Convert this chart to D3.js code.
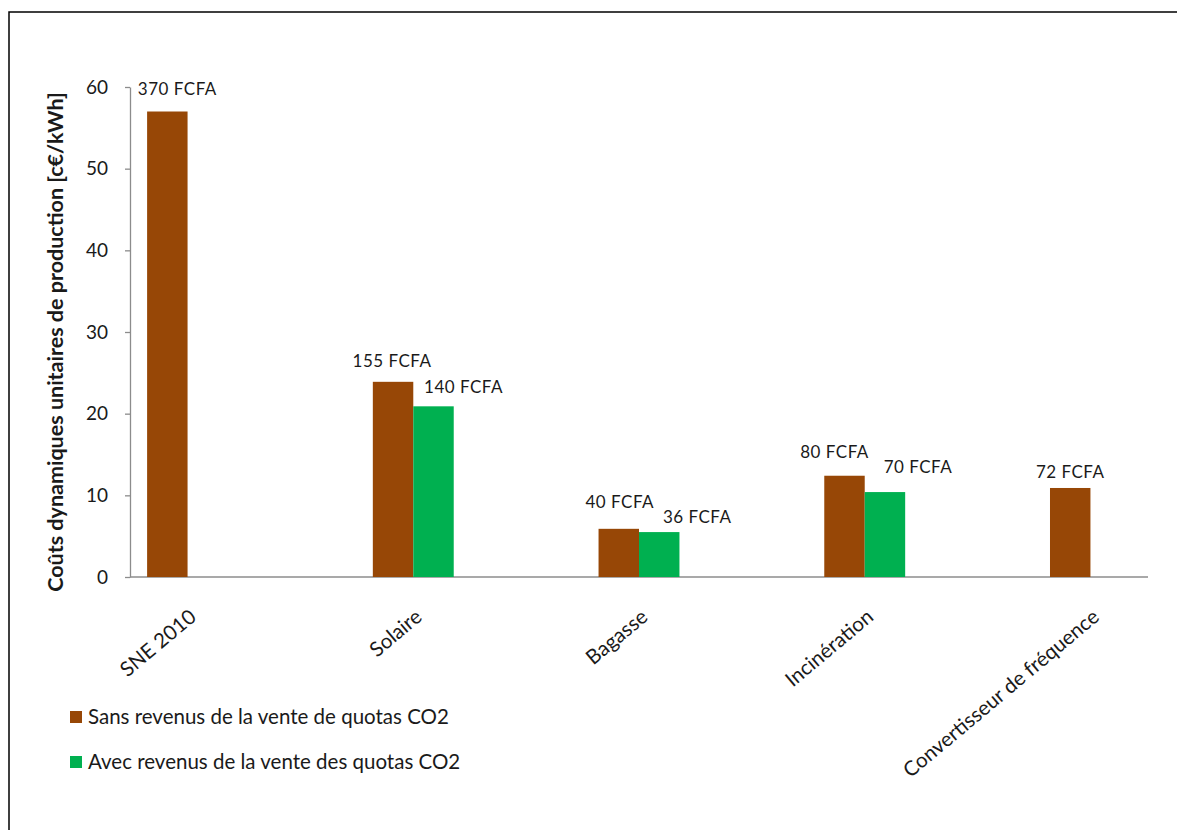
<!DOCTYPE html>
<html>
<head>
<meta charset="utf-8">
<script src="https://cdn.jsdelivr.net/npm/d3@7"></script>
<style>
  html, body { margin: 0; padding: 0; background: #fff; }
  svg { display: block; }
  text { font-family: Lato, "Open Sans", sans-serif; fill: #1a1a1a; }
</style>
</head>
<body>
<svg id="chart" width="1177" height="830"></svg>
<script>
// Production technologies
const categories = ["SNE 2010", "Solaire", "Bagasse", "Incinération", "Convertisseur de fréquence"];

// Series (c€/kWh); null where no bar is drawn
const seriesNames = ["Sans revenus de la vente de quotas CO2", "Avec revenus de la vente des quotas CO2"];
const sansRevenus = [57, 23.9, 5.9, 12.4, 10.9];
const avecRevenus = [null, 20.9, 5.5, 10.4, null];

// Data labels in FCFA
const labelsSans = ["370 FCFA", "155 FCFA", "40 FCFA", "80 FCFA", "72 FCFA"];
const labelsAvec = [null, "140 FCFA", "36 FCFA", "70 FCFA", null];

// Y axis ticks
const yTicks = [0, 10, 20, 30, 40, 50, 60];
const yTitle = "Coûts dynamiques unitaires de production [c€/kWh]";

// Hand-placed data label nudges [dx, dy] relative to bar centre / top
const nudgeSans = [[10, -17], [-1, -15], [1, -21], [-10, -18], [0, -10]];
const nudgeAvec = [null, [30, -13], [38, -9], [33, -19], null];

const colors = ["#974706", "#00B050"];

const svg = d3.select("#chart");
const plot = { left: 130, right: 1148, top: 87, bottom: 577 };

// outer frame (top and left edge)
svg.append("path")
  .attr("d", "M9,830 V12 H1177")
  .attr("fill", "none").attr("stroke", "#000").attr("stroke-width", 1.5);

const y = d3.scaleLinear().domain([0, 60]).range([plot.bottom, plot.top]);

const x = d3.scaleBand()
  .domain(categories)
  .range([plot.left, plot.right])
  .paddingInner(0)
  .paddingOuter(-0.245);

const xs = d3.scaleBand()
  .domain(seriesNames)
  .range([0, x.bandwidth()])
  .paddingInner(0)
  .paddingOuter(1.79);

// Y axis
const yAxis = svg.append("g")
  .attr("transform", `translate(${plot.left},0)`)
  .call(d3.axisLeft(y).tickValues(yTicks).tickSize(5).tickPadding(17).tickSizeOuter(0));
yAxis.select(".domain").attr("stroke", "#8c8c8c").attr("stroke-width", 1.3);
yAxis.selectAll(".tick line").attr("stroke", "#8c8c8c").attr("stroke-width", 1.3);
yAxis.selectAll(".tick text")
  .style("font-size", "19px").style("font-family", "Lato, sans-serif").attr("fill", "#1a1a1a");

// X axis baseline
svg.append("line")
  .attr("x1", plot.left).attr("x2", plot.right)
  .attr("y1", y(0)).attr("y2", y(0))
  .attr("stroke", "#8c8c8c").attr("stroke-width", 1.5);

// Bars
const rows = categories.map((c, i) => ({
  cat: c,
  vals: [
    { s: seriesNames[0], v: sansRevenus[i], label: labelsSans[i], nudge: nudgeSans[i], color: colors[0] },
    { s: seriesNames[1], v: avecRevenus[i], label: labelsAvec[i], nudge: nudgeAvec[i], color: colors[1] }
  ].filter(d => d.v != null)
}));

const groups = svg.append("g").selectAll("g")
  .data(rows).join("g")
  .attr("transform", d => `translate(${x(d.cat)},0)`);

groups.selectAll("rect")
  .data(d => d.vals).join("rect")
  .attr("x", d => xs(d.s))
  .attr("width", xs.bandwidth())
  .attr("y", d => y(d.v))
  .attr("height", d => y(0) - y(d.v))
  .attr("fill", d => d.color);

groups.selectAll("text.val")
  .data(d => d.vals).join("text")
  .attr("class", "val")
  .attr("x", d => xs(d.s) + xs.bandwidth() / 2 + d.nudge[0])
  .attr("y", d => y(d.v) + d.nudge[1])
  .attr("text-anchor", "middle")
  .style("font-size", "17px")
  .style("letter-spacing", "0.5px")
  .text(d => d.label);

// Category labels, rotated
svg.append("g").selectAll("text")
  .data(categories).join("text")
  .attr("transform", d => `translate(${x(d) + x.bandwidth() / 2 + 10},${plot.bottom + 42}) rotate(-40)`)
  .attr("text-anchor", "end")
  .style("font-size", "20.5px")
  .text(d => d);

// Y axis title
svg.append("text")
  .attr("transform", `translate(63,342) rotate(-90)`)
  .attr("text-anchor", "middle")
  .style("font-size", "21.5px")
  .style("font-weight", "bold")
  .text(yTitle);

// Legend
const legend = svg.append("g").selectAll("g")
  .data(seriesNames).join("g")
  .attr("transform", (d, i) => `translate(70,${711 + i * 45})`);
legend.append("rect")
  .attr("width", 12).attr("height", 12)
  .attr("fill", (d, i) => colors[i]);
legend.append("text")
  .attr("x", 18).attr("y", 12.5)
  .style("font-size", "20.5px")
  .text(d => d);
</script>
</body>
</html>
